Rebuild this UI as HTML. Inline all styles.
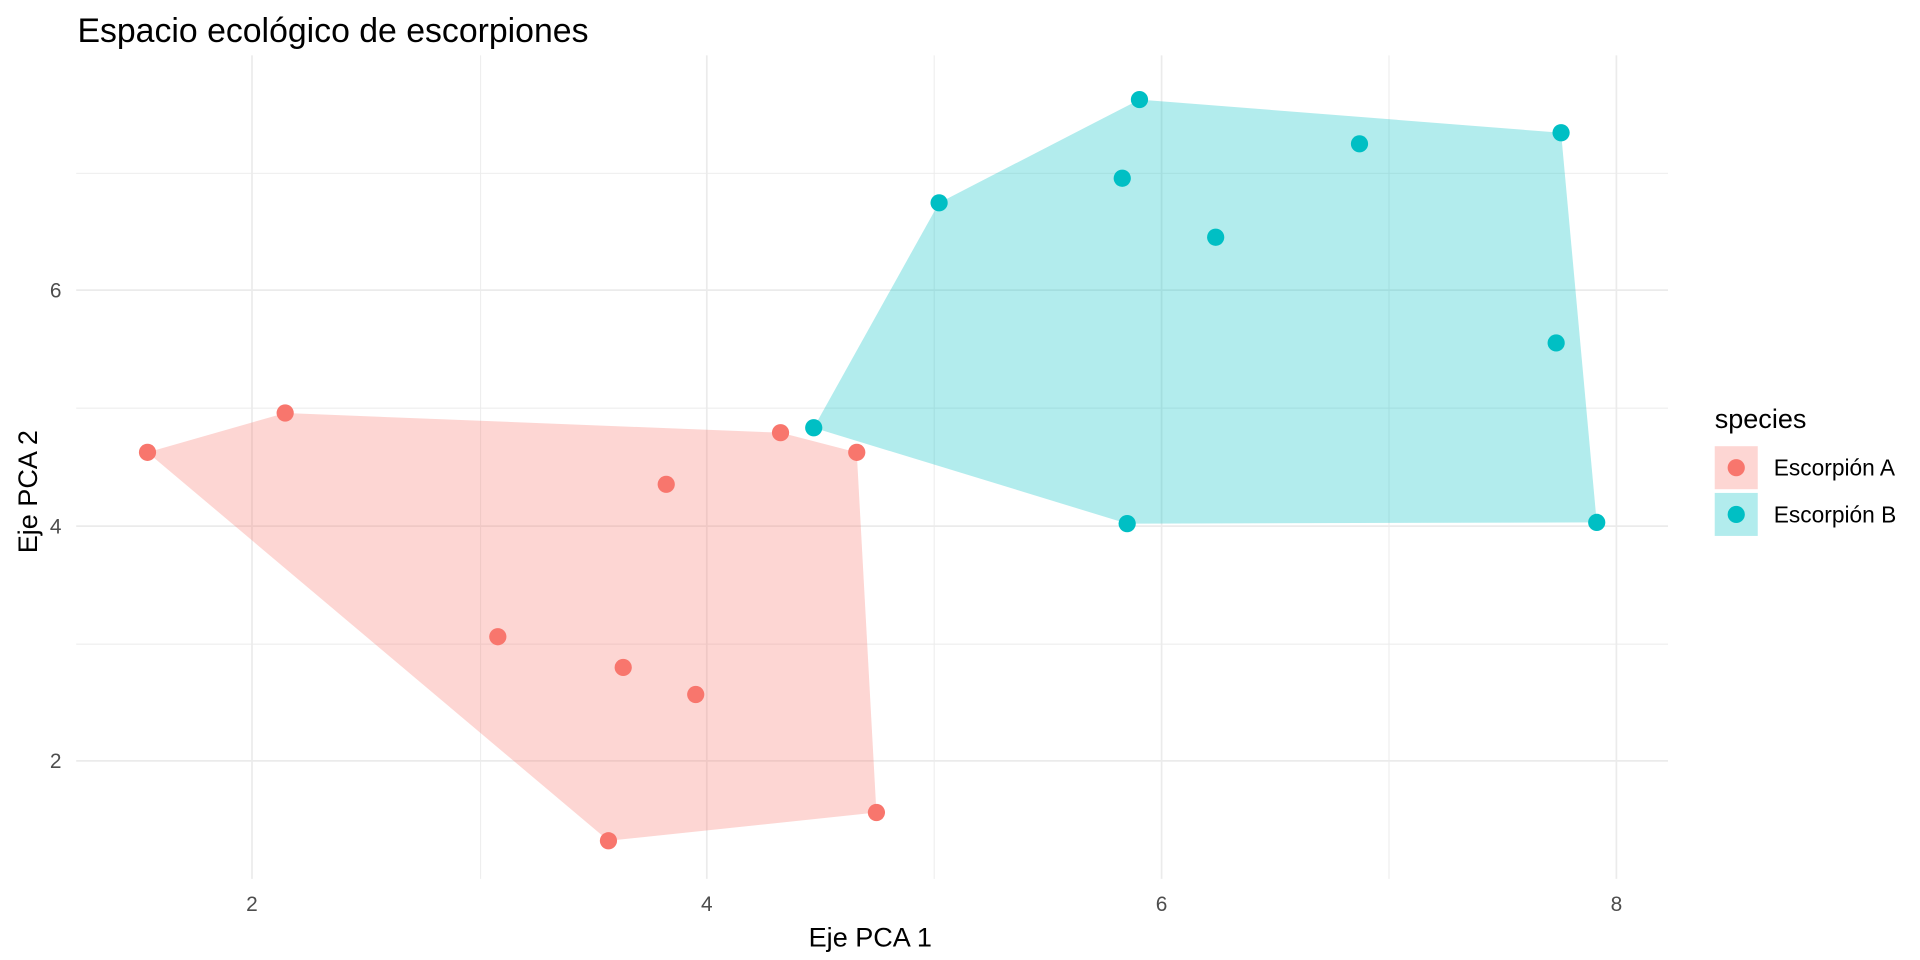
<!DOCTYPE html>
<html><head><meta charset="utf-8"><style>html,body{margin:0;padding:0;background:#fff;}svg{display:block}</style></head>
<body>
<svg width="1920" height="960" viewBox="0 0 1562 781" preserveAspectRatio="none" xmlns="http://www.w3.org/2000/svg" font-family="Liberation Sans, Arial, sans-serif">
<rect width="1562" height="781" fill="#fff"/>
<g stroke="#ebebeb" stroke-width="0.8">
<line x1="391" y1="45" x2="391" y2="715"/><line x1="760" y1="45" x2="760" y2="715"/><line x1="1130" y1="45" x2="1130" y2="715"/>
<line x1="62" y1="141" x2="1357" y2="141"/><line x1="62" y1="332" x2="1357" y2="332"/><line x1="62" y1="524" x2="1357" y2="524"/>
</g>
<g stroke="#ebebeb" stroke-width="1.4">
<line x1="205" y1="45" x2="205" y2="715"/><line x1="575" y1="45" x2="575" y2="715"/><line x1="945" y1="45" x2="945" y2="715"/><line x1="1315" y1="45" x2="1315" y2="715"/>
<line x1="62" y1="236" x2="1357" y2="236"/><line x1="62" y1="428" x2="1357" y2="428"/><line x1="62" y1="619" x2="1357" y2="619"/>
</g>
<polygon points="120,368 232,336 635,352 697,368 713,661 495,684" fill="#F8766D" fill-opacity="0.3"/>
<polygon points="662,348 764,165 927,81 1270,108 1299,425 917,426" fill="#00BFC4" fill-opacity="0.3"/>
<g fill="#F8766D">
<circle cx="120" cy="368" r="7"/><circle cx="232" cy="336" r="7"/><circle cx="635" cy="352" r="7"/><circle cx="697" cy="368" r="7"/><circle cx="542" cy="394" r="7"/><circle cx="405" cy="518" r="7"/><circle cx="507" cy="543" r="7"/><circle cx="566" cy="565" r="7"/><circle cx="495" cy="684" r="7"/><circle cx="713" cy="661" r="7"/>
</g>
<g fill="#00BFC4">
<circle cx="662" cy="348" r="7"/><circle cx="764" cy="165" r="7"/><circle cx="927" cy="81" r="7"/><circle cx="913" cy="145" r="7"/><circle cx="1106" cy="117" r="7"/><circle cx="1270" cy="108" r="7"/><circle cx="989" cy="193" r="7"/><circle cx="1266" cy="279" r="7"/><circle cx="917" cy="426" r="7"/><circle cx="1299" cy="425" r="7"/>
</g>
<g fill="#4d4d4d" font-size="17" text-anchor="middle">
<text x="205" y="741">2</text><text x="575" y="741">4</text><text x="945" y="741">6</text><text x="1315" y="741">8</text>
</g>
<g fill="#4d4d4d" font-size="17" text-anchor="end">
<text x="50" y="242">6</text><text x="50" y="434">4</text><text x="50" y="625">2</text>
</g>
<text x="708" y="770" font-size="22" text-anchor="middle" fill="#000">Eje PCA 1</text>
<text transform="translate(30,400) rotate(-90)" font-size="22" text-anchor="middle" fill="#000">Eje PCA 2</text>
<text x="63" y="34" font-size="27.5" fill="#000">Espacio ecológico de escorpiones</text>
<text x="1395" y="348" font-size="22" fill="#000">species</text>
<rect x="1395" y="363" width="35" height="35" fill="#F8766D" fill-opacity="0.3"/>
<circle cx="1412.5" cy="380.5" r="7" fill="#F8766D"/>
<rect x="1395" y="401" width="35" height="35" fill="#00BFC4" fill-opacity="0.3"/>
<circle cx="1412.5" cy="418.5" r="7" fill="#00BFC4"/>
<text x="1443" y="387" font-size="18.5" fill="#000">Escorpión A</text>
<text x="1443" y="425" font-size="18.5" fill="#000">Escorpión B</text>
</svg>
</body></html>
